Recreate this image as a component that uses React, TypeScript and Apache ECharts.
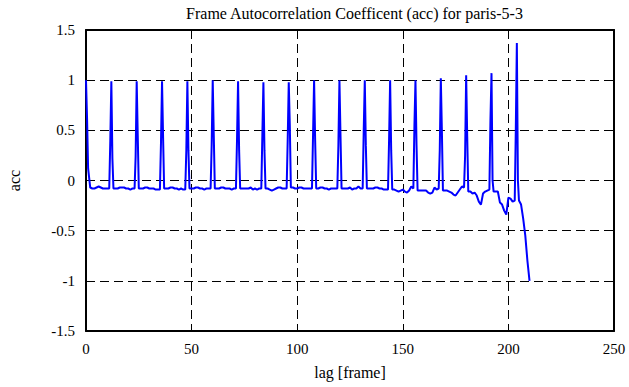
import React, { useEffect, useRef } from "react";
import * as echarts from "echarts";

const titleText = "Frame Autocorrelation Coefficent (acc) for paris-5-3";
const xName = "lag [frame]";
const yName = "acc";

// acc value at each integer lag 0..210
const accValues: number[] = [
  1.0, 0.12, -0.07, -0.08, -0.08, -0.07, -0.06, -0.07, -0.08, -0.08,
  -0.08, -0.08, 0.99, -0.08, -0.08, -0.08, -0.07, -0.07, -0.07, -0.08,
  -0.08, -0.09, -0.08, -0.08, 0.99, -0.08, -0.08, -0.08, -0.07, -0.07,
  -0.08, -0.08, -0.08, -0.09, -0.09, -0.09, 0.99, -0.08, -0.08, -0.08,
  -0.07, -0.07, -0.08, -0.08, -0.09, -0.08, -0.09, -0.09, 0.99, -0.08,
  -0.08, -0.08, -0.07, -0.07, -0.08, -0.08, -0.09, -0.08, -0.08, -0.08,
  1.0, -0.08, -0.08, -0.08, -0.07, -0.07, -0.08, -0.08, -0.08, -0.09,
  -0.08, -0.08, 0.99, -0.08, -0.08, -0.08, -0.08, -0.08, -0.07, -0.09,
  -0.08, -0.09, -0.08, -0.08, 0.98, -0.08, -0.08, -0.09, -0.1, -0.09,
  -0.08, -0.07, -0.07, -0.08, -0.08, -0.08, 0.98, -0.07, -0.07, -0.08,
  -0.08, -0.07, -0.07, -0.08, -0.08, -0.08, -0.08, -0.08, 1.0, -0.08,
  -0.08, -0.07, -0.07, -0.08, -0.08, -0.09, -0.08, -0.08, -0.08, -0.08,
  1.0, -0.08, -0.08, -0.08, -0.08, -0.07, -0.09, -0.08, -0.08, -0.06,
  -0.08, -0.08, 1.0, -0.08, -0.08, -0.08, -0.08, -0.07, -0.07, -0.08,
  -0.08, -0.09, -0.09, -0.09, 1.0, -0.09, -0.09, -0.1, -0.11, -0.1,
  -0.09, -0.11, -0.12, -0.1, -0.06, -0.08, 1.0, -0.1, -0.1, -0.1,
  -0.1, -0.1, -0.12, -0.13, -0.12, -0.07, -0.09, -0.08, 1.02, -0.1,
  -0.1, -0.1, -0.11, -0.12, -0.14, -0.15, -0.12, -0.09, -0.06, -0.07,
  1.05, -0.11, -0.11, -0.13, -0.12, -0.15, -0.21, -0.24, -0.13, -0.11,
  -0.1, -0.09, 1.07, -0.11, -0.11, -0.11, -0.22, -0.24, -0.3, -0.34,
  -0.17, -0.18, -0.21, -0.2, 1.37, -0.2, -0.24, -0.38, -0.55, -0.8,
  -1.0,
];

// half-lag samples on each side of the periodic peaks
const peakLags: number[] = [12, 24, 36, 48, 60, 72, 84, 96, 108, 120, 132, 144, 156, 168, 180, 192, 204];
const peakRise: number[] = [0.39, 0.24, 0.37, 0.3, 0.35, 0.4, 0.45, 0.4, 0.45, 0.35, 0.5, 0.4, 0.54, 0.3, 0.25, 0.6, 0.5];
const peakFall: number[] = [0.22, 0.45, 0.43, 0.3, 0.45, 0.3, 0.3, 0.55, 0.4, 0.45, 0.35, 0.3, 0.35, 0.5, 0.44, 0.0, 0.0];
const startHalfLag = 0.5;
const startHalfValue = 0.62;

const xMin = 0;
const xMax = 250;
const xStep = 50;
const yMin = -1.5;
const yMax = 1.5;
const yStep = 0.5;

const FONT = "Liberation Serif";

function buildData(): number[][] {
  const pts: number[][] = accValues.map((v, i) => [i, v]);
  pts.push([startHalfLag, startHalfValue]);
  peakLags.forEach((p, k) => {
    pts.push([p - 0.5, peakRise[k]]);
    pts.push([p + 0.5, peakFall[k]]);
  });
  pts.sort((a, b) => a[0] - b[0]);
  return pts;
}

export default function App() {
  const ref = useRef<HTMLDivElement>(null);
  useEffect(() => {
    if (!ref.current) return;
    const chart = echarts.init(ref.current, undefined, { renderer: "svg" });
    const dashed = { color: "#000", width: 1, type: [9, 5] as number[] };
    const axisLine = { show: true, onZero: false, lineStyle: { color: "#000", width: 2 } };
    const tick = { show: true, inside: true, length: 5, lineStyle: { color: "#000", width: 1 } };
    chart.setOption({
      animation: false,
      backgroundColor: "#fff",
      textStyle: { fontFamily: FONT, color: "#000" },
      title: {
        text: titleText,
        left: 349.5,
        textAlign: "center",
        top: 0,
        textStyle: { color: "#000", fontFamily: FONT, fontSize: 16, fontWeight: "normal" },
      },
      grid: {
        left: 86,
        right: 15,
        top: 30,
        bottom: 56,
        containLabel: false,
        outerBoundsMode: "none",
      },
      xAxis: [
        {
          type: "value",
          min: xMin,
          max: xMax,
          interval: xStep,
          position: "bottom",
          axisLine,
          axisTick: tick,
          axisLabel: { show: true, color: "#000", fontFamily: FONT, fontSize: 15, margin: 10 },
          splitLine: { show: true, lineStyle: dashed },
          name: xName,
          nameLocation: "middle",
          nameGap: 33,
          nameTextStyle: { color: "#000", fontFamily: FONT, fontSize: 16 },
        },
        {
          type: "value",
          min: xMin,
          max: xMax,
          interval: xStep,
          position: "top",
          axisLine,
          axisTick: tick,
          axisLabel: { show: false },
          splitLine: { show: false },
        },
      ],
      yAxis: [
        {
          type: "value",
          min: yMin,
          max: yMax,
          interval: yStep,
          position: "left",
          axisLine,
          axisTick: tick,
          axisLabel: { show: true, color: "#000", fontFamily: FONT, fontSize: 15, margin: 11 },
          splitLine: { show: true, lineStyle: dashed },
          name: yName,
          nameLocation: "middle",
          nameRotate: 90,
          nameGap: 64,
          nameTextStyle: { color: "#000", fontFamily: FONT, fontSize: 16 },
        },
        {
          type: "value",
          min: yMin,
          max: yMax,
          interval: yStep,
          position: "right",
          axisLine,
          axisTick: tick,
          axisLabel: { show: false },
          splitLine: { show: false },
        },
      ],
      series: [
        {
          type: "line",
          xAxisIndex: 0,
          yAxisIndex: 0,
          data: buildData(),
          showSymbol: false,
          symbol: "none",
          lineStyle: { color: "#0000ff", width: 2 },
          itemStyle: { color: "#0000ff" },
          z: 3,
        },
      ],
    });
    return () => chart.dispose();
  }, []);
  return (
    <div
      ref={ref}
      style={{ position: "fixed", left: 0, top: 0, width: 629, height: 387, background: "#fff" }}
    />
  );
}
